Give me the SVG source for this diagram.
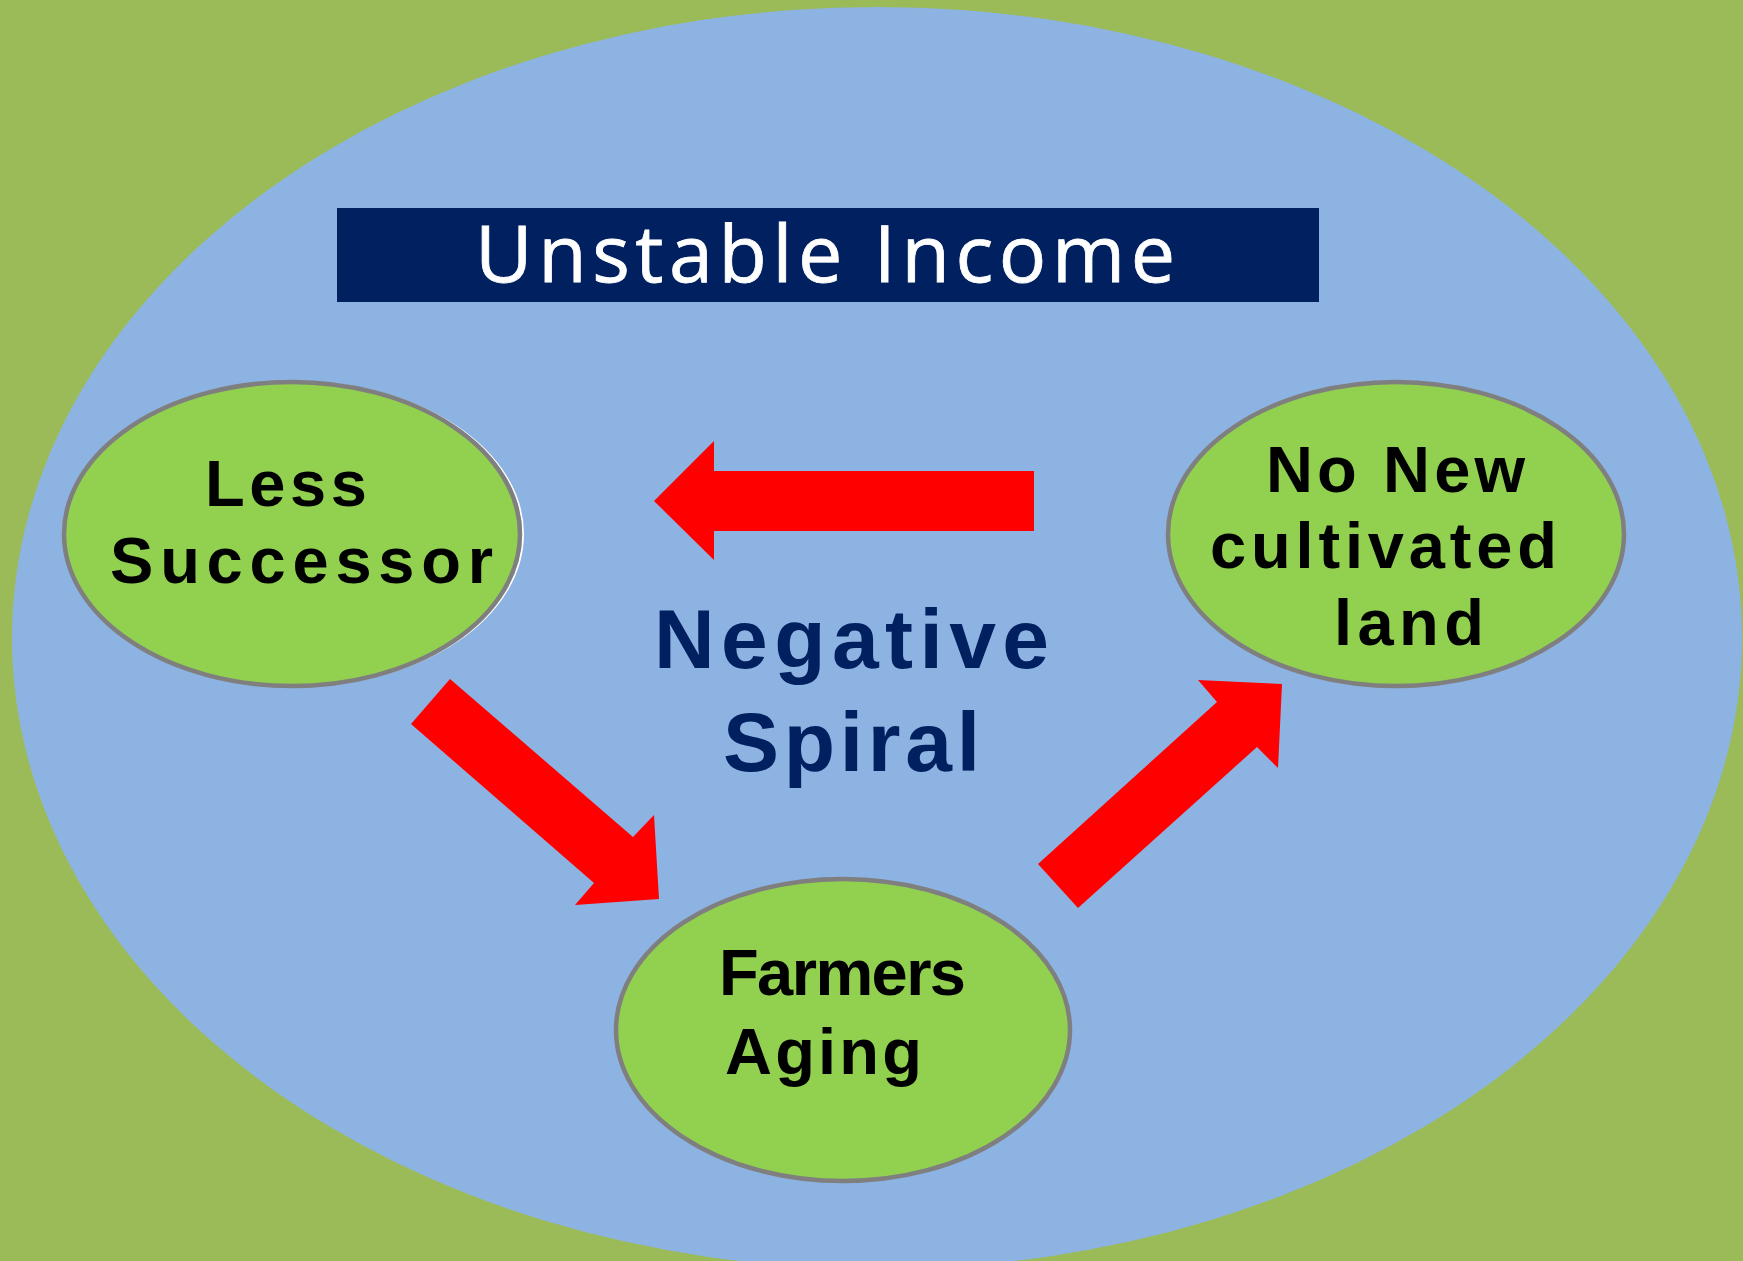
<svg xmlns="http://www.w3.org/2000/svg" width="1743" height="1261" viewBox="0 0 1743 1261">
<style>
.node{fill:#92D050;stroke:#7F7F7F;stroke-width:4.5}
.lbl{font-family:"Liberation Sans",Arial,sans-serif;font-weight:bold;font-size:65px;fill:#000}
.arrow{fill:#FF0000}
.mid{font-family:"Liberation Sans",Arial,sans-serif;font-weight:bold;font-size:84px;fill:#002060}
.title{font-family:"Open Sans","Noto Sans",sans-serif;font-size:79px;fill:#FFFFFF;stroke:#FFFFFF;stroke-width:0.8}
</style>
<rect x="0" y="0" width="1743" height="1261" fill="#9BBB59"/>
<ellipse id="background" cx="877" cy="638" rx="865" ry="631" fill="#8DB3E2"/>
<g id="title">
<rect x="337" y="208" width="982" height="94" fill="#002060"/>
<text class="title" x="475" y="282" textLength="700" lengthAdjust="spacing">Unstable Income</text>
</g>
<g id="connectors">
<polygon class="arrow" points="654,501 714,441 714,471 1034,471 1034,531 714,531 714,560"/>
<polygon class="arrow" points="450,679 633,837 654,815 659,899 575,905 594,883 411,724"/>
<polygon class="arrow" points="1038,864 1217,702 1198,680 1282,684 1278,768 1257,747 1078,908"/>
</g>
<g id="center-label">
<text class="mid" x="654" y="668" textLength="395" lengthAdjust="spacing">Negative</text>
<text class="mid" x="723" y="771" textLength="257" lengthAdjust="spacing">Spiral</text>
</g>
<g id="node-less-successor">
<ellipse cx="295" cy="534" rx="228" ry="152" fill="none" stroke="#FFFFFF" stroke-width="2"/>
<ellipse class="node" cx="292" cy="534" rx="228" ry="152"/>
<text class="lbl" x="205" y="506" textLength="162" lengthAdjust="spacing">Less</text>
<text class="lbl" x="110" y="583" textLength="383" lengthAdjust="spacing">Successor</text>
</g>
<g id="node-no-new-land">
<ellipse class="node" cx="1396" cy="534" rx="228" ry="152"/>
<text class="lbl" x="1266" y="492" textLength="259" lengthAdjust="spacing">No New</text>
<text class="lbl" x="1210" y="568" textLength="347" lengthAdjust="spacing">cultivated</text>
<text class="lbl" x="1334" y="645" textLength="150" lengthAdjust="spacing">land</text>
</g>
<g id="node-farmers-aging">
<ellipse class="node" cx="843" cy="1030" rx="227" ry="151"/>
<text class="lbl" x="719" y="995" textLength="247" lengthAdjust="spacing">Farmers</text>
<text class="lbl" x="725" y="1074" textLength="197" lengthAdjust="spacing">Aging</text>
</g>
</svg>
